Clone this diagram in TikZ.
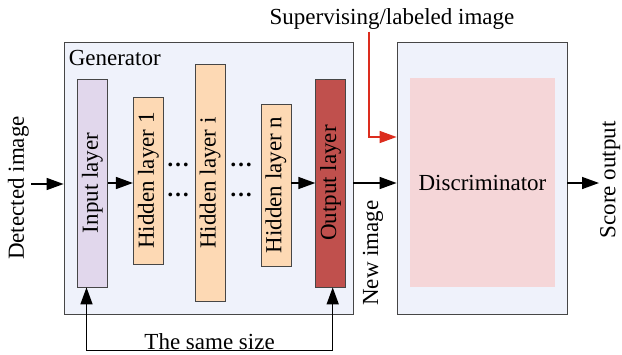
\documentclass[tikz,border=0pt]{standalone}
\usepackage{fontspec}
\setmainfont{Liberation Serif}
\usetikzlibrary{arrows.meta,positioning,calc}
\definecolor{GenFill}  {RGB}{239,242,251}
\definecolor{InFill}   {RGB}{225,215,236}
\definecolor{HidFill}  {RGB}{253,217,180}
\definecolor{OutFill}  {RGB}{192, 80, 77}
\definecolor{DiscFill} {RGB}{245,214,216}
\definecolor{SupRed}   {RGB}{220, 45, 30}
\definecolor{EdgeGray} {RGB}{ 70, 70, 70}
\newcommand{\ganfont}{\fontsize{23}{26}\selectfont}
\tikzset{
  %% outer boxes
  ganbox/.style={rectangle,draw=EdgeGray,fill=GenFill,line width=0.8pt},
  discbox/.style={rectangle,fill=DiscFill,font=\ganfont,align=center},
  %% layer bars
  glyr/.style={rectangle,draw=EdgeGray,line width=0.8pt,
               minimum width=30pt,inner sep=0pt,font=\ganfont},
  inlyr/.style={glyr,fill=InFill},
  hidlyr/.style={glyr,fill=HidFill},
  outlyr/.style={glyr,fill=OutFill},
  %% texts
  glbl/.style={font=\ganfont,inner sep=2pt},
  gdots/.style={font=\ganfont\bfseries,inner sep=1pt},
  %% arrows
  garr/.style={-{Triangle[length=17pt,width=12pt]},line width=1.5pt},
  garrR/.style={garr,color=SupRed},
  garrB/.style={{Triangle[length=17pt,width=12pt]}-{Triangle[length=17pt,width=12pt]},line width=1.5pt},
}
\begin{document}
\begin{tikzpicture}[x=1pt,y=-1pt]
    \useasboundingbox (0,0) rectangle (622,354);

    %% Generator
    \node[ganbox,minimum width=289pt,minimum height=272pt] (gen) at (208.5,178) {};
    \node[glbl,anchor=north west] (genlbl) at ([xshift=3pt,yshift=-6pt]gen.north west) {Generator};

    %% layers
    \node[inlyr,minimum height=208pt] (inl) at (92.5,183) {\rotatebox{90}{Input layer}};
    \node[hidlyr,minimum height=167pt,right=25pt of inl,yshift=2.5pt] (hid1) {\rotatebox{90}{Hidden layer 1}};
    \node[hidlyr,minimum height=237pt,right=31pt of hid1,yshift=-2.5pt] (hidi) {\rotatebox{90}{Hidden layer i}};
    \node[hidlyr,minimum height=162pt,right=35pt of hidi,yshift=-2pt] (hidn) {\rotatebox{90}{Hidden layer n}};
    \node[outlyr,minimum height=208pt,right=24pt of hidn,yshift=2pt] (outl) {\rotatebox{90}{Output layer}};

    %% dots between layers
    \node[gdots] (dotsA1) at (178,165) {\dots};
    \node[gdots] (dotsA2) at (178,195) {\dots};
    \node[gdots] (dotsB1) at (241,165) {\dots};
    \node[gdots] (dotsB2) at (241,195) {\dots};

    %% Discriminator
    \node[ganbox,minimum width=170pt,minimum height=272pt] (disc) at (482,178) {};
    \node[discbox,minimum width=145pt,minimum height=209pt] (dinner) at (482.5,182.5) {Discriminator};

    %% input
    \node[glbl,rotate=90,anchor=south] (det) at (31,188) {Detected image};
    \draw[garr] ([yshift=4pt]det.south) -- ([yshift=4pt]det.south -| gen.west);

    %% inside generator
    \draw[garr] (inl.east) -- (inl.east -| hid1.west);
    \draw[garr] (outl.west -| hidn.east) -- (outl.west);

    %% generator -> discriminator
    \draw[garr] (outl.east -| gen.east) -- (outl.east -| disc.west);
    \node[glbl,rotate=90] (newimg) at (373,253) {New image};

    %% output
    \node[glbl,rotate=90,anchor=north,inner sep=1pt] (score) at (599,180) {Score output};
    \draw[garr] (outl.east -| disc.east) -- (outl.east -| score.north);

    %% supervising image
    \node[glbl] (sup) at (392,19) {Supervising/labeled image};
    \draw[garrR] ([xshift=-23pt]sup.south) |- ([yshift=41pt]disc.west);

    %% same size loop
    \draw[garrB] ([xshift=-6pt]inl.south) -- ++(0,63)
      -| node[glbl,above,pos=0.25,inner sep=0pt] (same) {The same size}
         ([xshift=2pt]outl.south);
\end{tikzpicture}
\end{document}
